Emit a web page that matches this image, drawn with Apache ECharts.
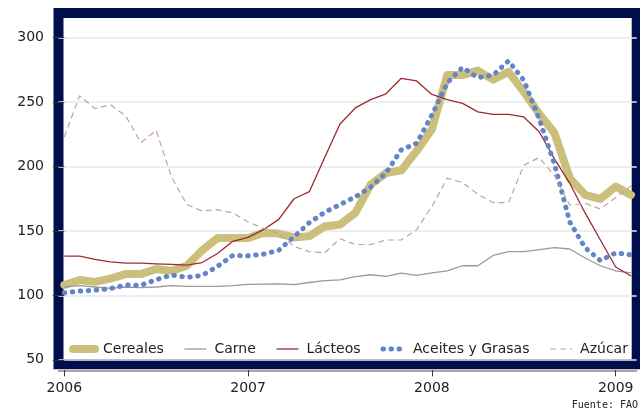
<!DOCTYPE html>
<html>
<head>
<meta charset="utf-8">
<script src="https://cdn.jsdelivr.net/npm/echarts@6/dist/echarts.min.js"></script>
<style>
  html, body { margin: 0; padding: 0; background: #ffffff; }
  #chart { width: 640px; height: 412px; }
</style>
</head>
<body>
<div id="chart"></div>
<script>
// Monthly index values, Jan 2006 .. Feb 2009 (x = month index from Jan 2006)
const months = ['2006-01','2006-02','2006-03','2006-04','2006-05','2006-06','2006-07','2006-08','2006-09','2006-10','2006-11','2006-12',
                '2007-01','2007-02','2007-03','2007-04','2007-05','2007-06','2007-07','2007-08','2007-09','2007-10','2007-11','2007-12',
                '2008-01','2008-02','2008-03','2008-04','2008-05','2008-06','2008-07','2008-08','2008-09','2008-10','2008-11','2008-12',
                '2009-01','2009-02'];
const cereales = [108, 112, 110.5, 113, 116.5, 116.5, 120.5, 119, 123, 135, 144.5, 144.5,
                  144.5, 148.5, 148, 145, 146, 153.5, 155, 164, 186, 195, 197, 212,
                  229, 271, 271, 274.5, 267.5, 273.5, 258, 241, 226, 191, 178, 175,
                  184.5, 178];
const carne = [106.5, 107.5, 106.5, 105.5, 106.5, 106, 106.5, 107.5, 107, 107, 107, 107.5,
               108.5, 108.8, 109, 108.3, 110, 111.5, 112, 114.5, 116, 114.7, 117.3, 115.5,
               117.5, 119, 123, 123, 131, 134, 134, 135.5, 137, 136, 129, 123,
               119, 117.5];
const lacteos = [130.5, 130.5, 128, 126, 125, 125, 124.5, 124, 123.5, 125.5, 132.5, 142,
                 145, 151, 159, 175, 180.5, 207, 233, 245.5, 252, 256.5, 268.5, 266.5,
                 256, 252, 249, 242.5, 240.5, 240.5, 238.5, 227, 206, 187, 164, 143,
                 122, 115];
const aceites = [102, 103.3, 104, 105.3, 108, 107.8, 112.2, 115.8, 114, 115.5, 122.5, 131,
                 130.7, 132, 135, 145.5, 156.5, 164.5, 170.5, 176.5, 184, 195, 213, 218,
                 240, 265, 277, 269, 271, 282, 267, 237, 202, 157, 137, 127,
                 133, 131.5];
const azucar = [223, 255, 245, 248, 239.5, 218.5, 228, 192, 170.5, 165.5, 166.5, 164,
                157, 152, 148, 138, 134, 133, 144, 139.5, 139.5, 143, 143, 151,
                169, 191, 187.5, 178.5, 172, 172, 201, 207, 193, 170, 171.5, 167,
                176, 185];
const yTicks = [50, 100, 150, 200, 250, 300];
const xTickMonths = [0, 12, 24, 36];
const xTickLabels = ['2006', '2007', '2008', '2009'];
const seriesNames = ['Cereales', 'Carne', 'Lácteos', 'Aceites y Grasas', 'Azúcar'];

function pairs(arr) { return arr.map((v, i) => [i, v]); }

const font = 'DejaVu Sans';
const chart = echarts.init(document.getElementById('chart'), null, { renderer: 'canvas' });
chart.setOption({
  animation: false,
  backgroundColor: '#ffffff',
  title: {
    text: 'Fuente: FAO',
    right: 2, top: 400, padding: 0,
    textStyle: { fontFamily: 'DejaVu Sans Mono', fontSize: 10, fontWeight: 'normal', color: '#222' }
  },
  grid: {
    left: 58.5, top: 13, right: 3.3, bottom: 47.7,
    show: true, backgroundColor: '#ffffff', borderColor: '#000e4e', borderWidth: 10
  },
  legend: {
    data: seriesNames,
    left: 69, top: 342, width: 580, padding: 0,
    itemWidth: 22, itemHeight: 14, itemGap: 20,
    lineStyle: { width: 'inherit' },
    itemStyle: { opacity: 0, borderWidth: 0 },
    textStyle: { fontFamily: font, fontSize: 14, color: '#222', padding: [0, 0, 0, 3] }
  },
  xAxis: {
    type: 'value', min: -0.378, max: 37.37, offset: 6,
    axisLine: { show: true, lineStyle: { color: '#8a8a8a', width: 1.5 } },
    axisTick: { show: true, length: 6, customValues: xTickMonths, lineStyle: { color: '#333', width: 1 } },
    axisLabel: {
      customValues: xTickMonths, margin: 11,
      formatter: v => xTickLabels[xTickMonths.indexOf(Math.round(v))] || '',
      fontFamily: font, fontSize: 14, color: '#222'
    },
    splitLine: { show: false }
  },
  yAxis: {
    type: 'value', min: 46.5, max: 319.2,
    axisLine: { show: false },
    axisTick: { show: true, length: 11.5, customValues: yTicks, lineStyle: { color: '#333', width: 1 } },
    axisLabel: { customValues: yTicks, margin: 14.5, fontFamily: font, fontSize: 14, color: '#222' },
    splitLine: { show: true, lineStyle: { color: '#e2ebeb', width: 1.5 } }
  },
  series: [
    { name: seriesNames[0], type: 'line', data: pairs(cereales), symbol: 'none',
      lineStyle: { color: '#cbbf7b', width: 8, cap: 'round', join: 'round' }, itemStyle: { color: '#cbbf7b' } },
    { name: seriesNames[1], type: 'line', data: pairs(carne), symbol: 'none',
      lineStyle: { color: '#9a9a9a', width: 1.3 }, itemStyle: { color: '#9a9a9a' } },
    { name: seriesNames[2], type: 'line', data: pairs(lacteos), symbol: 'none',
      lineStyle: { color: '#9e2a30', width: 1.3 }, itemStyle: { color: '#9e2a30' } },
    { name: seriesNames[3], type: 'line', data: pairs(aceites), symbol: 'none',
      lineStyle: { color: '#6384c6', width: 5, type: [0.5, 7.5], cap: 'round' }, itemStyle: { color: '#6384c6' } },
    { name: seriesNames[4], type: 'line', data: pairs(azucar), symbol: 'none',
      lineStyle: { color: '#c6a09a', width: 1.2, type: [6, 4] }, itemStyle: { color: '#c6a09a' } }
  ]
});
</script>
</body>
</html>
